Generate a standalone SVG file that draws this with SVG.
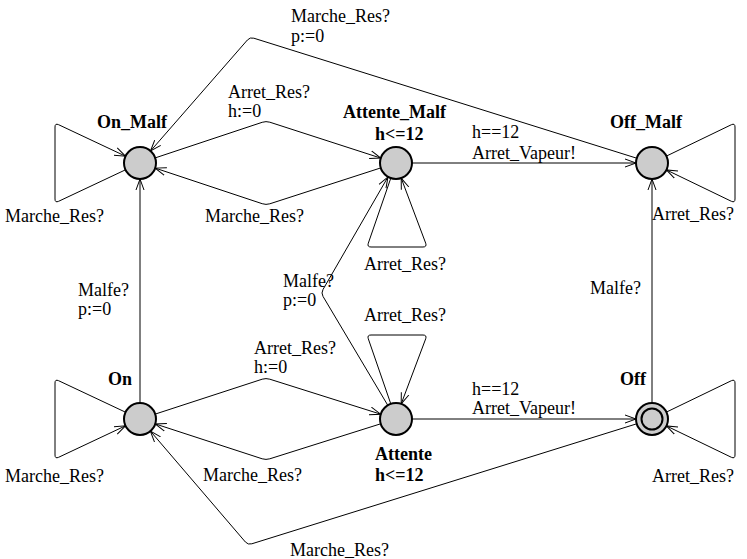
<svg xmlns="http://www.w3.org/2000/svg" width="747" height="559" viewBox="0 0 747 559">
  <style>
    .edge { fill: none; stroke: #000; stroke-width: 1; stroke-linejoin: round; }
    .loc { fill: #cccccc; stroke: #000; stroke-width: 2; }
    .inner { fill: none; stroke: #000; stroke-width: 2; }
    text { font-family: "Liberation Serif", "Times New Roman", serif; font-size: 18px; fill: #000; }
    .name { font-weight: bold; }
  </style>
  <defs>
    <marker id="arrow" markerUnits="userSpaceOnUse" markerWidth="14" markerHeight="12" refX="11" refY="5" orient="auto">
      <path d="M0,1 L11,5 L0,9" fill="none" stroke="#000" stroke-width="1"/>
    </marker>
  </defs>
  <rect width="747" height="559" fill="#fff"/>

  <!-- transitions -->
  <g id="edges">
    <path class="edge" marker-end="url(#arrow)" d="M140,403 L140,179"/>
    <path class="edge" marker-end="url(#arrow)" d="M155.2,414.1 L262.2,379.2 Q266,378 269.8,379.2 L380.7,414.2"/>
    <path class="edge" marker-end="url(#arrow)" d="M380.7,423.8 L269.8,458.8 Q266,460 262.2,458.8 L155.2,423.9"/>
    <path class="edge" marker-end="url(#arrow)" d="M155.2,157.9 L262.2,122.3 Q266,121 269.8,122.2 L380.8,158.1"/>
    <path class="edge" marker-end="url(#arrow)" d="M380.8,167.9 L269.8,203.8 Q266,205 262.2,203.7 L155.2,168.1"/>
    <path class="edge" marker-end="url(#arrow)" d="M412,163 L636,163"/>
    <path class="edge" marker-end="url(#arrow)" d="M412,419 L636,419"/>
    <path class="edge" marker-end="url(#arrow)" d="M652,403 L652,179"/>
    <path class="edge" marker-end="url(#arrow)" d="M387.8,405.3 L323,296.4 Q321,293 323,289.5 L388,176.9"/>
    <path class="edge" marker-end="url(#arrow)" d="M636.7,158.2 L253.8,38.2 Q250,37 247.4,40 L150.5,151"/>
    <path class="edge" marker-end="url(#arrow)" d="M636.7,423.8 L251.8,543.8 Q248,545 245.4,542 L150.4,431.1"/>
    <!-- self loops -->
    <path class="edge" marker-end="url(#arrow)" d="M125.5,169.8 L58.6,201.3 Q55,203 55,199 L55,127 Q55,123 58.6,124.7 L125.5,156.2"/>
    <path class="edge" marker-end="url(#arrow)" d="M125.5,412.2 L58.6,380.7 Q55,379 55,383 L55,455 Q55,459 58.6,457.3 L125.5,425.8"/>
    <path class="edge" marker-end="url(#arrow)" d="M666.4,156.1 L731.4,124.7 Q735,123 735,127 L735,199 Q735,203 731.4,201.3 L666.4,169.9"/>
    <path class="edge" marker-end="url(#arrow)" d="M666.4,412.1 L731.4,380.7 Q735,379 735,383 L735,455 Q735,459 731.4,457.3 L666.4,425.9"/>
    <path class="edge" marker-end="url(#arrow)" d="M390.8,178.1 L368.3,243.2 Q367,247 371,247 L423,247 Q427,247 425.7,243.2 L401.2,178.1"/>
    <path class="edge" marker-end="url(#arrow)" d="M390.8,403.9 L368.3,338.8 Q367,335 371,335 L423,335 Q427,335 425.7,338.8 L401.2,403.9"/>

    <!-- transition labels -->
    <text x="291" y="22">Marche_Res?</text>
    <text x="291" y="42">p:=0</text>
    <text x="228" y="98">Arret_Res?</text>
    <text x="228" y="117">h:=0</text>
    <text x="472" y="138">h==12</text>
    <text x="472" y="159">Arret_Vapeur!</text>
    <text x="5" y="222">Marche_Res?</text>
    <text x="205" y="222">Marche_Res?</text>
    <text x="652" y="220">Arret_Res?</text>
    <text x="364" y="270">Arret_Res?</text>
    <text x="78" y="296">Malfe?</text>
    <text x="78" y="315">p:=0</text>
    <text x="283" y="287">Malfe?</text>
    <text x="283" y="306">p:=0</text>
    <text x="590" y="294">Malfe?</text>
    <text x="364" y="321">Arret_Res?</text>
    <text x="254" y="354">Arret_Res?</text>
    <text x="254" y="373">h:=0</text>
    <text x="472" y="395">h==12</text>
    <text x="472" y="414">Arret_Vapeur!</text>
    <text x="5" y="482">Marche_Res?</text>
    <text x="203" y="481">Marche_Res?</text>
    <text x="652" y="482">Arret_Res?</text>
    <text x="290" y="556">Marche_Res?</text>
  </g>

  <!-- locations -->
  <g id="On_Malf">
    <circle class="loc" cx="140" cy="163" r="16"/>
    <text class="name" x="97" y="128">On_Malf</text>
  </g>
  <g id="Attente_Malf">
    <circle class="loc" cx="396" cy="163" r="16"/>
    <text class="name" x="343" y="118">Attente_Malf</text>
    <text class="name" x="375" y="140">h&lt;=12</text>
  </g>
  <g id="Off_Malf">
    <circle class="loc" cx="652" cy="163" r="16"/>
    <text class="name" x="610" y="128">Off_Malf</text>
  </g>
  <g id="On">
    <circle class="loc" cx="140" cy="419" r="16"/>
    <text class="name" x="108" y="385">On</text>
  </g>
  <g id="Attente">
    <circle class="loc" cx="396" cy="419" r="16"/>
    <text class="name" x="375" y="460">Attente</text>
    <text class="name" x="375" y="481">h&lt;=12</text>
  </g>
  <g id="Off">
    <circle class="loc" cx="652" cy="419" r="16"/>
    <circle class="inner" cx="652" cy="419" r="10.5"/>
    <text class="name" x="620" y="385">Off</text>
  </g>
</svg>
